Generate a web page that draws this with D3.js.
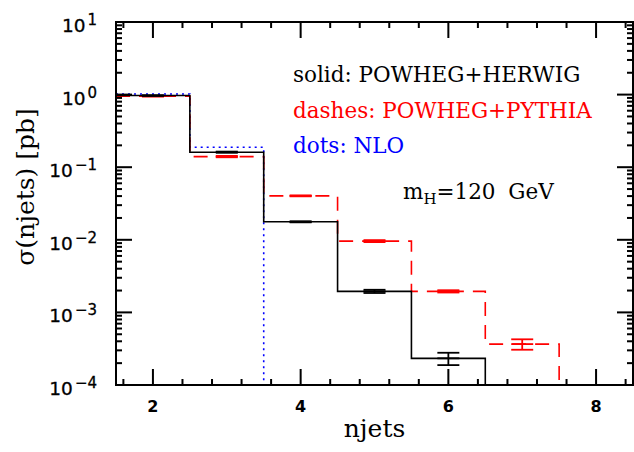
<!DOCTYPE html>
<html>
<head>
<meta charset="utf-8">
<script src="https://cdn.jsdelivr.net/npm/d3@7"></script>
<style>
  body { margin: 0; background: #fff; }
  svg { display: block; }
</style>
</head>
<body>
<svg width="634" height="452"></svg>
<script>
// jet multiplicity bins (centred on integers)
var njets = [2, 3, 4, 5, 6, 7, 8];

// sigma(njets) in pb, 0 = empty bin
var herwig    = [0.97, 0.161, 0.0177, 0.00195, 0.000233, 0, 0];
var herwigErr = [0.01, 0.003, 0.0003, 0.0001, 0.000045, 0, 0];
var pythia    = [0.95, 0.140, 0.0403, 0.0096, 0.00195, 0.000366, 0];
var pythiaErr = [0.01, 0.003, 0.0006, 0.0003, 0.00007, 0.00006, 0];
var nlo       = [1.02, 0.188, 0, 0, 0, 0, 0];

var xMajor = [2, 4, 6, 8];
var xMinor = [1.6, 2.4, 2.8, 3.2, 3.6, 4.4, 4.8, 5.2, 5.6, 6.4, 6.8, 7.2, 7.6, 8.4];
var yExp = [1, 0, -1, -2, -3, -4];

(function() {
var svg = d3.select('svg'),
    pl = 116, pr = 633, pt = 22, pb = 385;

var x = d3.scaleLinear().domain([1.5, 8.5]).range([pl, pr]),
    y = d3.scaleLog().domain([1e-4, 10]).range([pb, pt]);

var yMajor = yExp.map(function(e) { return Math.pow(10, e); });
var yMinor = [];
yExp.slice(1).forEach(function(e) {
  d3.range(2, 10).forEach(function(k) { yMinor.push(k * Math.pow(10, e)); });
});

svg.append('defs').append('clipPath').attr('id', 'plotclip')
  .append('rect')
  .attr('x', pl).attr('y', pt)
  .attr('width', pr - pl).attr('height', pb - pt);

// histograms
function yv(v) { return v > 0 ? y(v) : pb + 20; }
var step = d3.line()
  .x(function(d) { return x(d[0]); })
  .y(function(d) { return yv(d[1]); })
  .curve(d3.curveStepAfter);

function pts(vals) {
  var p = njets.map(function(n, i) { return [n - 0.5, vals[i]]; });
  p.push([njets[njets.length - 1] + 0.5, vals[vals.length - 1]]);
  return p;
}

var plot = svg.append('g').attr('clip-path', 'url(#plotclip)');

var series = [
  { vals: nlo, err: null, color: '#0000ff', dash: '2,4' },
  { vals: pythia, err: pythiaErr, color: '#ff0000', dash: '14,9' },
  { vals: herwig, err: herwigErr, color: '#000', dash: null }
];

series.forEach(function(s) {
  plot.append('path')
    .attr('d', step(pts(s.vals)))
    .attr('fill', 'none')
    .attr('stroke', s.color)
    .attr('stroke-width', 1.6)
    .attr('stroke-dasharray', s.dash);

  if (!s.err) return;
  var eb = njets.map(function(n, i) { return { n: n, v: s.vals[i], e: s.err[i] }; })
    .filter(function(d) { return d.v > 0; });
  var g = plot.append('g').attr('stroke', s.color).attr('stroke-width', 1.8);
  g.selectAll('.ev').data(eb).enter().append('line')
    .attr('x1', function(d) { return x(d.n); })
    .attr('x2', function(d) { return x(d.n); })
    .attr('y1', function(d) { return y(d.v + d.e); })
    .attr('y2', function(d) { return y(d.v - d.e); });
  [-1, 1, 0].forEach(function(sg) {
    g.selectAll('.cap').data(eb).enter().append('line')
      .attr('x1', function(d) { return x(d.n) - 11; })
      .attr('x2', function(d) { return x(d.n) + 11; })
      .attr('y1', function(d) { return y(d.v + sg * d.e); })
      .attr('y2', function(d) { return y(d.v + sg * d.e); });
  });
});

// frame
svg.append('rect')
  .attr('x', pl).attr('y', pt)
  .attr('width', pr - pl).attr('height', pb - pt)
  .attr('fill', 'none').attr('stroke', '#000').attr('stroke-width', 2);

// ticks on all four sides, pointing inwards
var tk = svg.append('g').attr('fill', '#000');
function xTicks(vals, len) {
  vals.forEach(function(d) {
    tk.append('rect').attr('x', x(d) - 1).attr('y', pb - len).attr('width', 2).attr('height', len);
    tk.append('rect').attr('x', x(d) - 1).attr('y', pt).attr('width', 2).attr('height', len);
  });
}
function yTicks(vals, len) {
  vals.forEach(function(d) {
    tk.append('rect').attr('x', pl).attr('y', y(d) - 1).attr('width', len).attr('height', 2);
    tk.append('rect').attr('x', pr - len).attr('y', y(d) - 1).attr('width', len).attr('height', 2);
  });
}
xTicks(xMinor, 6);
xTicks(xMajor, 16);
yTicks(yMinor, 6);
yTicks(yMajor, 16);

// x labels
svg.append('g').selectAll('text')
  .data(xMajor)
  .enter()
  .append('text')
  .attr('x', function(d) { return x(d); })
  .attr('y', 412)
  .attr('text-anchor', 'middle')
  .attr('font-family', 'DejaVu Sans')
  .attr('font-weight', 'bold')
  .attr('font-size', 16)
  .text(function(d) { return d; });

// y labels 10^n
var yl = svg.append('g').selectAll('text')
  .data(yExp)
  .enter()
  .append('text')
  .attr('x', 97)
  .attr('y', function(d) { return y(Math.pow(10, d)) + 10; })
  .attr('text-anchor', 'end')
  .attr('font-family', 'DejaVu Sans')
  .attr('font-size', 18.5)
  .attr('stroke', '#000')
  .attr('stroke-width', 0.3);
yl.append('tspan').text('10');
yl.append('tspan')
  .attr('dx', 2).attr('dy', -7)
  .attr('font-size', 15)
  .text(function(d) { return d < 0 ? '\u2212' + (-d) : '' + d; });

// legend text
var legend = [
  { t: 'solid: POWHEG+HERWIG', c: '#000', y: 82 },
  { t: 'dashes: POWHEG+PYTHIA', c: '#ff0000', y: 118 },
  { t: 'dots: NLO', c: '#0000ff', y: 153 }
];
svg.append('g').selectAll('text')
  .data(legend)
  .enter()
  .append('text')
  .attr('x', 293)
  .attr('y', function(d) { return d.y; })
  .attr('fill', function(d) { return d.c; })
  .attr('font-family', 'DejaVu Serif')
  .attr('font-size', 21.5)
  .text(function(d) { return d.t; });

var mh = svg.append('text')
  .attr('x', 403).attr('y', 199)
  .attr('font-family', 'DejaVu Serif')
  .attr('font-size', 21.5)
  .attr('word-spacing', 6);
mh.append('tspan').text('m');
mh.append('tspan').attr('dy', 5).attr('font-size', 15).text('H');
mh.append('tspan').attr('dy', -5).text('=120 GeV');

// axis titles
svg.append('text')
  .attr('x', (pl + pr) / 2).attr('y', 437)
  .attr('text-anchor', 'middle')
  .attr('font-family', 'DejaVu Serif')
  .attr('font-size', 25)
  .text('njets');

svg.append('text')
  .attr('transform', 'translate(34,187) rotate(-90)')
  .attr('text-anchor', 'middle')
  .attr('font-family', 'DejaVu Serif')
  .attr('font-size', 25)
  .text('\u03c3(njets) [pb]');
})();
</script>
</body>
</html>
